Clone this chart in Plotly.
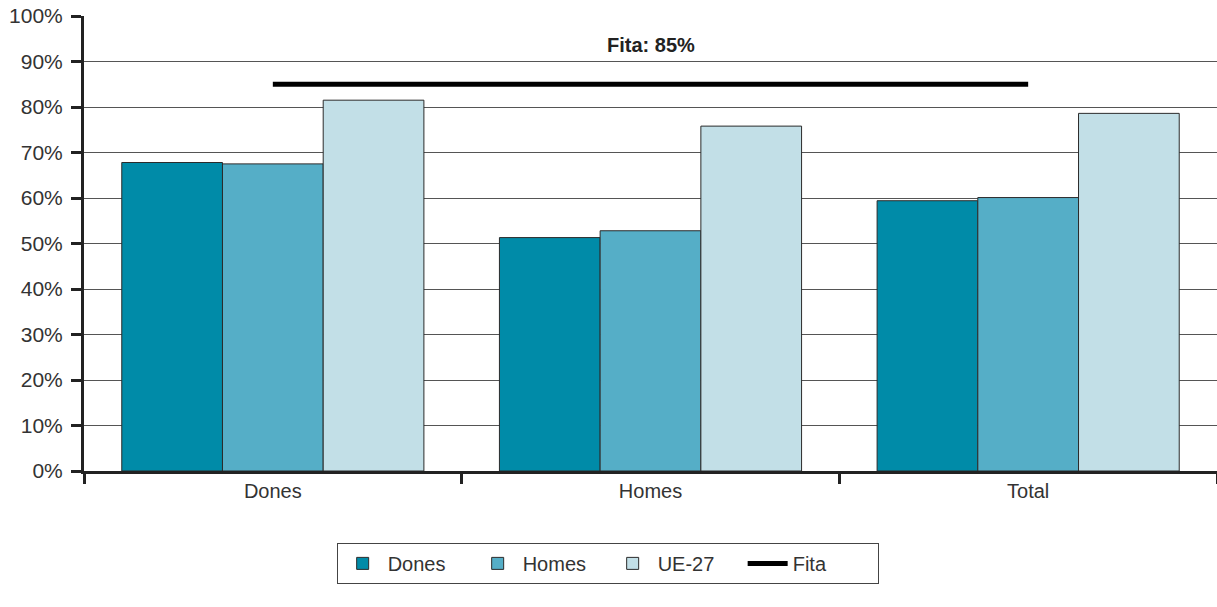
import plotly.graph_objects as go

categories = ["Dones", "Homes", "Total"]
dones = [67.8, 51.3, 59.4]
homes = [67.5, 52.8, 60.1]
ue27 = [81.5, 75.8, 78.6]
fita = [85, 85, 85]
tick_vals = [0, 10, 20, 30, 40, 50, 60, 70, 80, 90, 100]
tick_text = [str(v) + "%" for v in tick_vals]

font = "Liberation Sans, Arial, sans-serif"
outline = dict(color="#2b2b2b", width=1)

fig = go.Figure()
fig.add_trace(go.Bar(name="Dones", x=categories, y=dones, marker=dict(color="#008ba8", line=outline)))
fig.add_trace(go.Bar(name="Homes", x=categories, y=homes, marker=dict(color="#55aec7", line=outline)))
fig.add_trace(go.Bar(name="UE-27", x=categories, y=ue27, marker=dict(color="#c2dfe7", line=outline)))
fig.add_trace(go.Scatter(name="Fita", x=categories, y=fita, mode="lines",
                         line=dict(color="black", width=5)))

fig.add_annotation(x="Homes", y=93.6, text="<b>Fita: 85%</b>", showarrow=False,
                   font=dict(size=20, color="#222", family=font))

fig.update_layout(
    width=1217, height=607,
    margin=dict(l=84, r=0, t=16, b=136, autoexpand=False),
    plot_bgcolor="white", paper_bgcolor="white",
    barmode="group", bargap=0.2, bargroupgap=0,
    font=dict(family=font, size=20, color="#333"),
    showlegend=True,
    legend=dict(orientation="h", x=0.223, xanchor="left", y=-0.158, yanchor="top",
                bordercolor="#444", borderwidth=1, font=dict(size=20, color="#333"),
                traceorder="normal", itemwidth=40, entrywidth=80,
                tracegroupgap=0),
)
fig.update_yaxes(range=[0, 100], tickvals=tick_vals, ticktext=tick_text,
                 tickfont=dict(size=21, color="#333"), automargin=False,
                 ticklabelstandoff=4,
                 showgrid=True, gridcolor="#555", gridwidth=1,
                 showline=True, linecolor="#222", linewidth=3,
                 ticks="outside", ticklen=10, tickwidth=3, tickcolor="#222",
                 zeroline=False, fixedrange=True)
fig.update_xaxes(showline=True, linecolor="#222", linewidth=3, automargin=False,
                 tickfont=dict(size=20, color="#333"),
                 ticks="outside", tickson="boundaries", ticklen=10, tickwidth=3,
                 tickcolor="#222", showgrid=False, fixedrange=True)

# drop the default 8px body margin so the figure fills the window
fig.write_html("out.html", config={"displayModeBar": False},
               post_script="document.body.style.margin='0';")
